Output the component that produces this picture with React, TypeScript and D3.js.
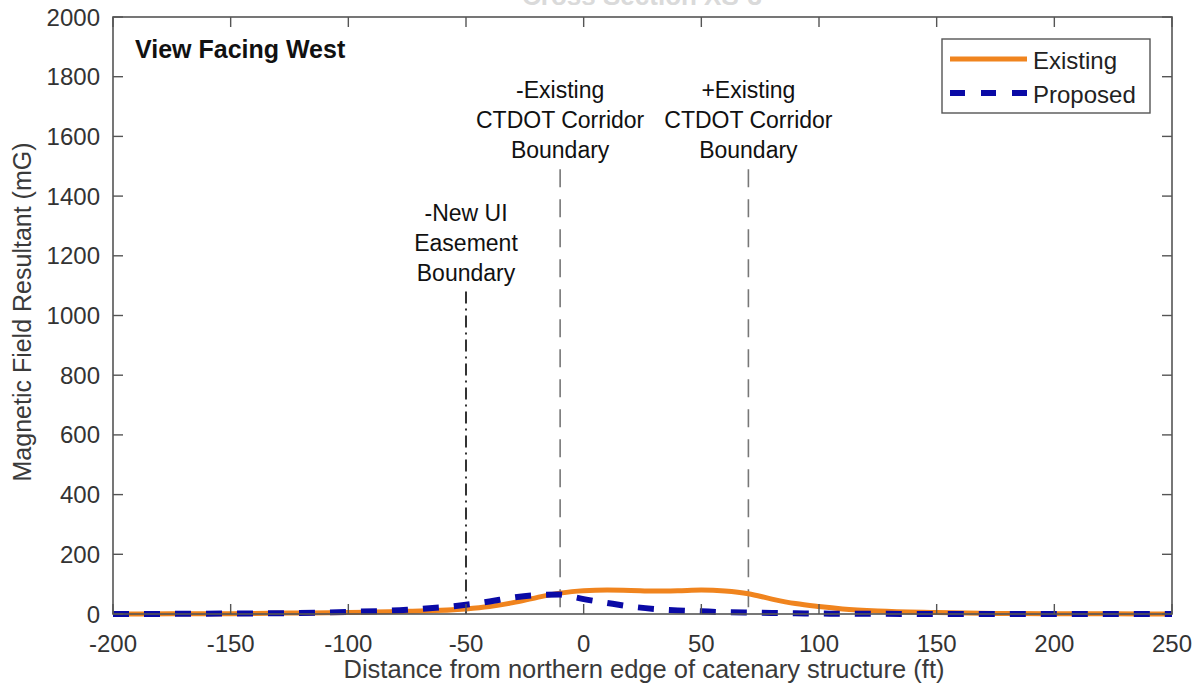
import React from "react";
import * as d3 from "d3";

// Distance from northern edge of catenary structure (ft)
const distances = [
  -200, -175, -150, -125, -100, -75, -50, -40, -30, -20, -10, -5, 0, 10, 20, 30, 40, 50, 60, 70, 80, 90, 100,
  110, 125, 150, 175, 200, 225, 250,
];
// Magnetic field resultant (mG)
const existing = [
  0, 0.5, 1, 3, 5, 9, 17, 25, 38, 55, 70, 75, 78, 80, 79, 77, 78, 80, 77, 68, 50, 35, 25, 17, 10, 5, 2, 1, 0.5,
  0,
];
const proposed = [
  0, 0.5, 1.5, 3, 7, 14, 31, 42, 55, 63, 65, 58, 50, 37, 25, 17, 12, 9, 6, 5, 3.5, 2.5, 1.5, 1, 0.5, 0.3, 0, 0,
  0, 0,
];

const xTickValues = [-200, -150, -100, -50, 0, 50, 100, 150, 200, 250];
const yTickValues = [0, 200, 400, 600, 800, 1000, 1200, 1400, 1600, 1800, 2000];

// boundary markers
const boundaryX = [-50, -10, 70];
const boundaryTop = [1080, 1490, 1490];
const boundaryLabels = [
  ["-New UI", "Easement", "Boundary"],
  ["-Existing", "CTDOT Corridor", "Boundary"],
  ["+Existing", "CTDOT Corridor", "Boundary"],
];

const seriesNames = ["Existing", "Proposed"];

const W = 1202;
const H = 698;
const left = 113;
const right = 1172;
const top = 17;
const bottom = 614;
const font = "'Liberation Sans', Arial, Helvetica, sans-serif";
const orange = "#F0841E";
const blue = "#0A0AA6";

const App = () => {
  const x = d3.scaleLinear().domain([-200, 250]).range([left, right]);
  const y = d3.scaleLinear().domain([0, 2000]).range([bottom, top]);

  const line = d3
    .line<number>()
    .x((_, i) => x(distances[i]))
    .y((d) => y(d))
    .curve(d3.curveMonotoneX);

  const tickLen = 10;

  return (
    <div style={{ position: "absolute", left: 0, top: 0 }}>
      <svg width={W} height={H} style={{ display: "block", background: "#fff" }} fontFamily={font}>
        {/* title, mostly cropped off the top of the figure */}
        <text x={642} y={5} textAnchor="middle" fontSize={26} fontWeight="bold" fill="#dadada">
          Cross Section XS-3
        </text>

        {/* boundary lines */}
        {boundaryX.map((b, i) => (
          <line
            key={"b" + i}
            x1={x(b)}
            x2={x(b)}
            y1={y(boundaryTop[i])}
            y2={y(0)}
            stroke={i === 0 ? "#333" : "#777"}
            strokeWidth={i === 0 ? 2 : 1.6}
            strokeDasharray={i === 0 ? "12 5 2 5" : "18 12"}
          />
        ))}
        {boundaryLabels.map((lines, i) =>
          lines.map((t, j) => (
            <text
              key={"bl" + i + j}
              x={x(boundaryX[i])}
              y={y(boundaryTop[i]) - 11 - 30 * (lines.length - 1 - j)}
              textAnchor="middle"
              fontSize={23}
              fill="#111"
            >
              {t}
            </text>
          ))
        )}

        {/* series */}
        <path d={line(existing) ?? ""} fill="none" stroke={orange} strokeWidth={5} />
        <path d={line(proposed) ?? ""} fill="none" stroke={blue} strokeWidth={6} strokeDasharray="16 15" />

        {/* axes box */}
        <rect x={left} y={top} width={right - left} height={bottom - top} fill="none" stroke="#555" strokeWidth={1.6} />
        {xTickValues.map((v) => (
          <g key={"xt" + v} stroke="#555" strokeWidth={1.4}>
            <line x1={x(v)} x2={x(v)} y1={bottom} y2={bottom - tickLen} />
            <line x1={x(v)} x2={x(v)} y1={top} y2={top + tickLen} />
          </g>
        ))}
        {yTickValues.map((v) => (
          <g key={"yt" + v} stroke="#555" strokeWidth={1.4}>
            <line x1={left} x2={left + tickLen} y1={y(v)} y2={y(v)} />
            <line x1={right} x2={right - tickLen} y1={y(v)} y2={y(v)} />
          </g>
        ))}
        {xTickValues.map((v) => (
          <text key={"xl" + v} x={x(v)} y={652} textAnchor="middle" fontSize={24} fill="#333">
            {v}
          </text>
        ))}
        {yTickValues.map((v) => (
          <text key={"yl" + v} x={100} y={y(v) + 8.5} textAnchor="end" fontSize={24} fill="#333">
            {v}
          </text>
        ))}

        {/* axis labels */}
        <text x={644} y={678} textAnchor="middle" fontSize={25.5} fill="#3a3a3a">
          Distance from northern edge of catenary structure (ft)
        </text>
        <text transform={`translate(31, ${312}) rotate(-90)`} textAnchor="middle" fontSize={25} fill="#3a3a3a">
          Magnetic Field Resultant (mG)
        </text>

        <text x={135} y={58} fontSize={25} fontWeight="bold" fill="#111">
          View Facing West
        </text>

        {/* legend */}
        <rect x={942} y={39} width={208} height={74} fill="#fff" stroke="#555" strokeWidth={1.4} />
        <line x1={950} x2={1027} y1={59} y2={59} stroke={orange} strokeWidth={5} />
        <line x1={950} x2={1027} y1={93} y2={93} stroke={blue} strokeWidth={6} strokeDasharray="15 16" />
        {seriesNames.map((n, i) => (
          <text key={n} x={1033} y={69 + 34 * i} fontSize={24} fill="#222">
            {n}
          </text>
        ))}
      </svg>
    </div>
  );
};

export default App;
